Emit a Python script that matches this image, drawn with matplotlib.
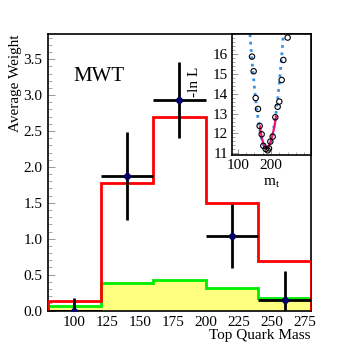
import numpy as np
import matplotlib
matplotlib.use("Agg")
import matplotlib.pyplot as plt
from matplotlib.ticker import MultipleLocator

plt.rcParams['font.family'] = ['Liberation Serif', 'DejaVu Serif']

# main histogram: bin edges and contents
bin_edges = [80, 120, 160, 200, 240, 280]
signal_bkg = [0.13, 1.78, 2.70, 1.49, 0.685]      # red
background = [0.06, 0.38, 0.43, 0.32, 0.18]      # green / yellow

# data points
data_x = [100, 140, 180, 220, 260]
data_y = [0.0, 1.875, 2.93, 1.035, 0.14]
data_err = [0.17, 0.61, 0.53, 0.45, 0.41]

# inset: -ln L scan
scan_mt = [143, 148, 154, 161, 166, 172, 177, 184, 190, 194, 198, 205,
           213, 220, 225, 232, 237, 250]
scan_nll = [15.88, 15.14, 13.79, 13.24, 12.38, 11.96, 11.38, 11.22, 11.15,
            11.25, 11.59, 11.84, 12.82, 13.35, 13.61, 14.70, 15.71, 16.84]

# dotted global curve
curve_mt = [137, 141, 145, 150, 155, 160, 165, 170, 175, 181, 187, 193,
            200, 205, 210, 215, 220, 225, 230, 234, 237]
curve_nll = [17.0, 16.1, 15.3, 14.38, 13.58, 12.9, 12.32, 11.87, 11.53,
             11.28, 11.2, 11.28, 11.59, 11.95, 12.43, 13.02, 13.73, 14.55,
             15.49, 16.3, 17.0]

# solid fit near minimum
fit_mt = [167, 170, 173, 176, 179, 182, 185, 188, 191, 194, 197, 200,
          203, 206, 209, 212, 215]
fit_nll = [12.36, 12.0, 11.75, 11.55, 11.4, 11.3, 11.26, 11.26, 11.3,
           11.38, 11.5, 11.65, 11.83, 12.03, 12.26, 12.52, 12.85]

fig = plt.figure(figsize=(3.46, 3.46), dpi=100)
ax = fig.add_axes([0.1387, 0.1026, 0.7601, 0.7991])

edges = np.array(bin_edges)
ax.stairs(background, edges, fill=True, color='#ffff80', zorder=1)
ax.stairs(background, edges, color='#00ee00', linewidth=2, zorder=2)
ax.stairs(signal_bkg, edges, color='#ff0000', linewidth=2, zorder=3)

xerr = [(edges[i + 1] - edges[i]) / 2 for i in range(len(data_x))]
ax.errorbar(data_x, data_y, yerr=data_err, xerr=xerr, fmt='o', color='black',
            markerfacecolor='#000066', markeredgecolor='#000066', markersize=4,
            elinewidth=2, capsize=0, zorder=4, clip_on=True)

ax.set_xlim(80, 280)
ax.set_ylim(0, 3.85)
ax.set_xticks([100, 125, 150, 175, 200, 225, 250, 275])
ax.yaxis.set_major_locator(MultipleLocator(0.5))
ax.yaxis.set_minor_locator(MultipleLocator(0.1))
ax.yaxis.set_major_formatter(plt.FormatStrFormatter('%.1f'))
ax.tick_params(axis='y', which='major', direction='in', length=5, width=0.6,
               color='#888888', labelsize=11, pad=4)
ax.tick_params(axis='y', which='minor', direction='in', length=3, width=0.5,
               color='#888888')
ax.tick_params(axis='x', which='major', direction='in', length=0, labelsize=11,
               pad=4)
for sp in ax.spines.values():
    sp.set_linewidth(1.2)

ax.set_ylabel('Average Weight', fontsize=11, loc='top', labelpad=1)
ax.set_xlabel('Top Quark Mass', fontsize=11, loc='right', labelpad=0)
ax.text(0.095, 0.845, 'MWT', transform=ax.transAxes, fontsize=15,
        ha='left', va='center')

# inset
ins = fig.add_axes([0.6705, 0.5529, 0.2283, 0.3488])
ins.plot(curve_mt, curve_nll, linestyle=':', color='#3d8fe6', linewidth=2,
         zorder=2)
ins.plot(fit_mt, fit_nll, color='#ee1177', linewidth=1.6, zorder=3)
ins.scatter(scan_mt, scan_nll, s=15, facecolors='none', edgecolors='black',
            linewidths=0.8, zorder=4)
ins.set_xlim(83, 320)
ins.set_ylim(10.93, 17.02)
ins.set_xticks([100, 200])
ins.xaxis.set_minor_locator(MultipleLocator(25))
ins.set_yticks([11, 12, 13, 14, 15, 16])
ins.yaxis.set_minor_locator(MultipleLocator(0.2))
ins.tick_params(which='major', direction='in', length=4, width=0.6,
                color='#888888', labelsize=11, pad=3)
ins.tick_params(which='minor', direction='in', length=2, width=0.5,
                color='#888888')
for sp in ins.spines.values():
    sp.set_linewidth(1.2)
ins.set_ylabel('-ln L', fontsize=11)
ins.yaxis.set_label_coords(-0.39, 0.60)
ins.set_xlabel('m$_\\mathregular{t}$', fontsize=11, labelpad=3)

fig.savefig('out.png', dpi=100)
